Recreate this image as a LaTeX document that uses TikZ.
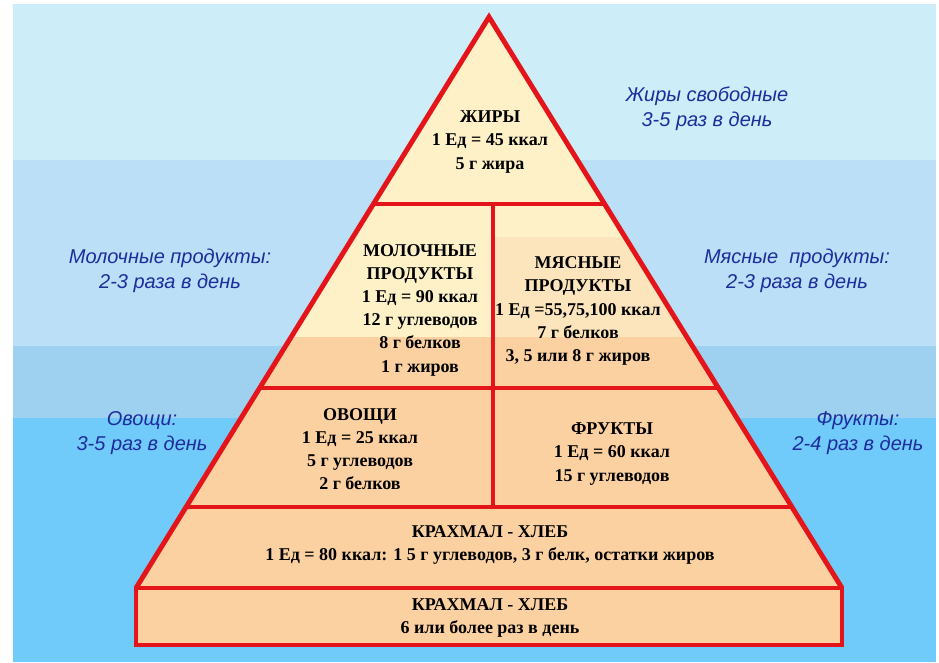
\documentclass[tikz,border=0pt]{standalone}
\usepackage{fontspec}
\setmainfont{Liberation Serif}
\newfontfamily\labfont{Liberation Sans}
\definecolor{bandA}{HTML}{CDEDF8}
\definecolor{bandB}{HTML}{BADFF6}
\definecolor{bandC}{HTML}{9ED0F0}
\definecolor{bandD}{HTML}{71CBFA}
\definecolor{cream}{HTML}{FEF1C8}
\definecolor{creamB}{HTML}{FCE5BC}
\definecolor{peach}{HTML}{FCD1A2}
\definecolor{pyrred}{HTML}{E3141A}
\definecolor{sideblue}{HTML}{1E2C9C}
\begin{document}
\begin{tikzpicture}[x=0.75pt,y=-0.75pt,
  edge/.style={draw=pyrred, line width=3.7pt},
  txt/.style={font=\bfseries\fontsize{13.5}{17.4}\selectfont, align=center, text=black, inner sep=0pt},
  side/.style={font=\labfont\itshape\fontsize{15}{18.8}\selectfont, text=sideblue, align=center, inner sep=0pt}]
\useasboundingbox (0,0) rectangle (939,662);
\fill[white] (0,0) rectangle (939,662);
% background bands
\fill[bandA] (13,4) rectangle (936,160);
\fill[bandB] (13,160) rectangle (936,346);
\fill[bandC] (13,346) rectangle (936,418);
\fill[bandD] (13,418) rectangle (936,662);
% pyramid corners
\coordinate (apex) at (489,17);
\coordinate (bl) at (136,588);
\coordinate (br) at (842,588);
\coordinate (r1l) at (373.4,204);
\coordinate (r1r) at (604.6,204);
\coordinate (r2l) at (259.7,388);
\coordinate (r2r) at (718.3,388);
\coordinate (r3l) at (186.2,507);
\coordinate (r3r) at (791.8,507);
\coordinate (v1) at (493,204);
\coordinate (v2) at (493,507);
\coordinate (bbr) at (842,645);
% fills
\begin{scope}
\clip (apex) -- (br) -- (bl) -- cycle;
\fill[peach] (100,0) rectangle (900,600);
\fill[cream] (100,0) rectangle (900,238);
\fill[cream] (100,237) rectangle (493,337);
\fill[creamB] (493,237) rectangle (900,337);
\end{scope}
\fill[peach] (bl) rectangle (bbr);
% lines
\draw[edge] (r1l) -- (r1r);
\draw[edge] (r2l) -- (r2r);
\draw[edge] (r3l) -- (r3r);
\draw[edge] (v1) -- (v2);
\draw[edge] (bl) rectangle (bbr);
\draw[edge, line join=miter] (bl) -- (apex) -- (br);
% pyramid texts
\node[txt] (fat) at (490,142) {ЖИРЫ\\1 Ед = 45 ккал\\5 г жира};
\node[txt] (dairy) at (420,310) {МОЛОЧНЫЕ\\ПРОДУКТЫ\\1 Ед = 90 ккал\\12 г углеводов\\8 г белков\\1 г жиров};
\node[txt] (meat) at (578,311) {МЯСНЫЕ\\ПРОДУКТЫ\\1 Ед =55,75,100 ккал\\7 г белков\\3, 5 или 8 г жиров};
\node[txt] (veg) at (360,449) {ОВОЩИ\\1 Ед = 25 ккал\\5 г углеводов\\2 г белков};
\node[txt] (fruit) at (612,454) {ФРУКТЫ\\1 Ед = 60 ккал\\15 г углеводов};
\node[txt] (starch) at (490,545) {КРАХМАЛ - ХЛЕБ\\1 Ед = 80 ккал: 1 5 г углеводов, 3 г белк, остатки жиров};
\node[txt] (bread) at (490,618) {КРАХМАЛ - ХЛЕБ\\6 или более раз в день};
% side labels
\node[side] (fatlab) at (707,109) {Жиры свободные\\3-5 раз в день};
\node[side] (dairylab) at (170,271) {Молочные продукты:\\2-3 раза в день};
\node[side] (meatlab) at (797,271) {Мясные\ \ продукты:\\2-3 раза в день};
\node[side] (veglab) at (142,433) {Овощи:\\3-5 раз в день};
\node[side] (fruitlab) at (858,433) {Фрукты:\\2-4 раз в день};
\end{tikzpicture}
\end{document}
